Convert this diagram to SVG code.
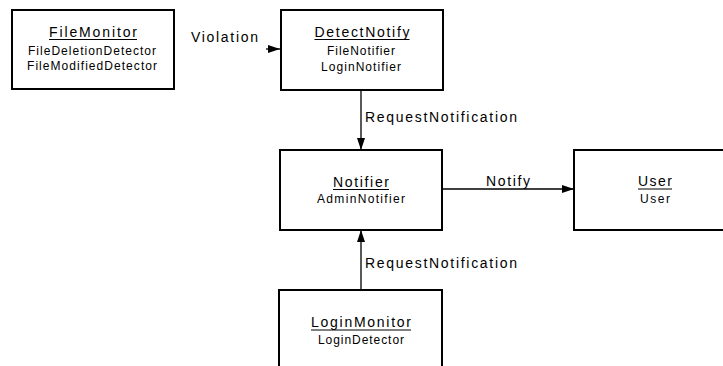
<svg xmlns="http://www.w3.org/2000/svg" width="723" height="366" viewBox="0 0 723 366">
<style>
.box{fill:#fff;stroke:#000;stroke-width:2}
.t{font-family:"Liberation Sans",Arial,sans-serif;fill:#000;text-anchor:middle}
.h{font-size:14px}
.s{font-size:12px}
.lbl{font-family:"Liberation Sans",Arial,sans-serif;font-size:14px;fill:#000}
.ul{stroke:#000;stroke-width:1}
.c{stroke:#000;stroke-width:1.3;fill:none;marker-end:url(#ah)}
</style>
<defs>
<marker id="ah" markerWidth="12" markerHeight="8" refX="12" refY="4" orient="auto" markerUnits="userSpaceOnUse">
<path d="M0,0 L12,4 L0,8 Z" fill="#000"/>
</marker>
</defs>
<rect width="723" height="366" fill="#fff"/>
<g id="FileMonitor">
<rect class="box" x="12" y="10" width="162" height="79"/>
<text class="t h" x="93" y="37" textLength="88" lengthAdjust="spacing">FileMonitor</text>
<line class="ul" x1="49" y1="39.5" x2="137" y2="39.5"/>
<text class="t s" x="92" y="55" textLength="128" lengthAdjust="spacing">FileDeletionDetector</text>
<text class="t s" x="92" y="70" textLength="130" lengthAdjust="spacing">FileModifiedDetector</text>
</g>
<g id="DetectNotify">
<rect class="box" x="281" y="10" width="162" height="80"/>
<text class="t h" x="362" y="37" textLength="95" lengthAdjust="spacing">DetectNotify</text>
<line class="ul" x1="314.5" y1="39.5" x2="409.5" y2="39.5"/>
<text class="t s" x="361" y="55" textLength="68" lengthAdjust="spacing">FileNotifier</text>
<text class="t s" x="361" y="71" textLength="80" lengthAdjust="spacing">LoginNotifier</text>
</g>
<g id="Notifier">
<rect class="box" x="280" y="150" width="162" height="80"/>
<text class="t h" x="361" y="187" textLength="56" lengthAdjust="spacing">Notifier</text>
<line class="ul" x1="333" y1="189.5" x2="389" y2="189.5"/>
<text class="t s" x="361" y="203" textLength="88" lengthAdjust="spacing">AdminNotifier</text>
</g>
<g id="User">
<rect class="box" x="574" y="150" width="162" height="80"/>
<text class="t h" x="655" y="186" textLength="34" lengthAdjust="spacing">User</text>
<line class="ul" x1="638" y1="189" x2="672" y2="189"/>
<text class="t s" x="655" y="203" textLength="30" lengthAdjust="spacing">User</text>
</g>
<g id="LoginMonitor">
<rect class="box" x="279" y="290" width="163" height="80"/>
<text class="t h" x="361" y="327" textLength="100" lengthAdjust="spacing">LoginMonitor</text>
<line class="ul" x1="311" y1="330" x2="411" y2="330"/>
<text class="t s" x="361" y="344" textLength="86" lengthAdjust="spacing">LoginDetector</text>
</g>
<g id="connectors">
<path class="c" d="M266,49 L280,49"/>
<text class="lbl" x="191" y="42" textLength="67" lengthAdjust="spacing">Violation</text>
<path class="c" d="M361,90 L361,150"/>
<text class="lbl" x="365" y="122" textLength="152" lengthAdjust="spacing">RequestNotification</text>
<path class="c" d="M443,189 L574,189"/>
<text class="lbl" x="486" y="186" textLength="44" lengthAdjust="spacing">Notify</text>
<path class="c" d="M361,290 L361,230"/>
<text class="lbl" x="365" y="268" textLength="152" lengthAdjust="spacing">RequestNotification</text>
</g>
</svg>
